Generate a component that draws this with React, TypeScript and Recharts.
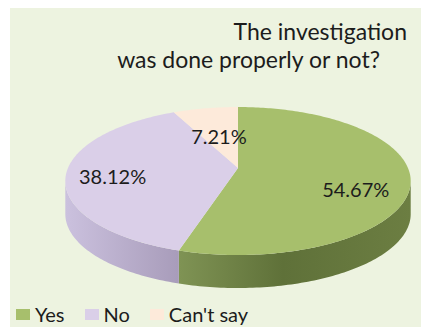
import React from "react";
import { PieChart, Pie, Legend } from "recharts";

const categories = ["Yes", "No", "Can't say"];
const shares = [54.67, 38.12, 7.21];
const topColors = ["#A7BF6C", "#DACFE8", "#FDEADA"];
const titleLines = ["The investigation", "was done properly or not?"];

const table = categories.map((name, i) => ({ name, value: shares[i], fill: topColors[i] }));

const FONT = "Lato, 'Open Sans', sans-serif";
const WIDTH = 421;
const HEIGHT = 328;
const TILT = 0.4218; // vertical squash of the disc
const DEPTH = 33; // height of the extruded rim
const NEAR_FAR = 0.176; // perspective strength: the far edge of the disc is foreshortened
const RIM_LIMIT = 10.1; // degrees below horizontal where the rim's silhouette begins

const wallStops: [string, string][][] = [
  [["0%", "#7F9354"], ["45%", "#5F7139"], ["100%", "#6C7E42"]],
  [["0%", "#CBC1DE"], ["100%", "#A89CBA"]],
  [],
];

const rad = (deg: number) => (deg * Math.PI) / 180;

// Draws one slice as a disc seen in perspective, with its visible rim below it.
function DiscSlice(props: any) {
  const { cx, cy, outerRadius, startAngle, endAngle, fill, index } = props;
  const ry = outerRadius * TILT;
  const project = (a: number, dy = 0): [number, number] => {
    const u = Math.cos(rad(a));
    const v = Math.sin(rad(a));
    const w = 1 + NEAR_FAR * v;
    return [cx + (outerRadius * u) / w, cy - (ry * v) / w + dy];
  };
  const trace = (from: number, to: number, dy = 0) => {
    const steps = Math.max(1, Math.ceil(Math.abs(from - to)));
    const pts: string[] = [];
    for (let i = 0; i <= steps; i++) {
      const p = project(from + ((to - from) * i) / steps, dy);
      pts.push(`${p[0].toFixed(2)} ${p[1].toFixed(2)}`);
    }
    return pts;
  };

  const top = `M ${cx} ${cy} L ${trace(startAngle, endAngle).join(" L ")} Z`;

  const wallFrom = Math.min(startAngle, -RIM_LIMIT);
  const wallTo = Math.max(endAngle, -180 + RIM_LIMIT);
  const hasWall = wallFrom > wallTo;
  const gradientId = `rim-${index}`;
  const wall = hasWall
    ? `M ${trace(wallFrom, wallTo).join(" L ")} L ${trace(wallTo, wallFrom, DEPTH).join(" L ")} Z`
    : "";
  const xs = hasWall ? [project(wallFrom)[0], project(wallTo)[0]] : [0, 0];

  return (
    <g>
      {hasWall && (
        <>
          <defs>
            <linearGradient
              id={gradientId}
              gradientUnits="userSpaceOnUse"
              x1={Math.min(...xs)}
              x2={Math.max(...xs)}
              y1={0}
              y2={0}
            >
              {wallStops[index].map(([offset, color]) => (
                <stop key={offset} offset={offset} stopColor={color} />
              ))}
            </linearGradient>
          </defs>
          <path d={wall} fill={`url(#${gradientId})`} />
        </>
      )}
      <path d={top} fill={fill} />
    </g>
  );
}

// Hand-placed percentage labels, nudged from each slice's middle angle.
const labelNudges = [
  { reach: 0.7, dy: 13.7 },
  { reach: 0.74, dy: 4 },
  { reach: 0.5, dy: 3 },
];

function SliceLabel(props: any) {
  const { cx, cy, outerRadius, midAngle, index, value } = props;
  const { reach, dy } = labelNudges[index];
  const x = cx + outerRadius * reach * Math.cos(rad(midAngle));
  const y = cy - outerRadius * TILT * reach * Math.sin(rad(midAngle)) + dy;
  return (
    <text
      x={x}
      y={y}
      textAnchor="middle"
      dominantBaseline="central"
      fontFamily={FONT}
      fontSize={20}
      fill="#1c1c1c"
    >
      {value.toFixed(2)}%
    </text>
  );
}

// Legend row: small squares with roomy gaps between the entries.
function LegendRow({ payload }: any) {
  return (
    <div style={{ display: "flex", alignItems: "center", fontFamily: FONT, fontSize: 20, color: "#1c1c1c", lineHeight: "24px" }}>
      {(payload || []).map((entry: any) => (
        <div key={entry.value} style={{ display: "flex", alignItems: "center", marginRight: 20 }}>
          <span style={{ display: "inline-block", width: 14, height: 11, background: entry.color, marginRight: 5 }} />
          <span>{entry.value}</span>
        </div>
      ))}
    </div>
  );
}

export default function App() {
  return (
    <div style={{ position: "absolute", left: 0, top: 0, width: WIDTH, height: HEIGHT, background: "#fff" }}>
      <div style={{ position: "absolute", left: 10, top: 8, right: 0, bottom: 1, background: "#EDF3E0" }} />
      <PieChart width={WIDTH} height={HEIGHT} margin={{ top: 0, right: 0, bottom: 0, left: 0 }}>
        <text x={407} y={40} textAnchor="end" fontFamily={FONT} fontSize={23} fill="#1c1c1c">
          {titleLines[0]}
        </text>
        <text x={380} y={68} textAnchor="end" fontFamily={FONT} fontSize={23} fill="#1c1c1c">
          {titleLines[1]}
        </text>
        <Pie
          data={table}
          dataKey="value"
          nameKey="name"
          cx={238}
          cy={168}
          innerRadius={0}
          outerRadius={170}
          startAngle={90}
          endAngle={-270}
          stroke="none"
          isAnimationActive={false}
          shape={DiscSlice}
          label={SliceLabel}
          labelLine={false}
        />
        <Legend
          layout="horizontal"
          align="left"
          verticalAlign="bottom"
          itemSorter={null}
          content={LegendRow}
          wrapperStyle={{ left: 16, top: 302, bottom: "auto", width: "auto" }}
        />
      </PieChart>
    </div>
  );
}
